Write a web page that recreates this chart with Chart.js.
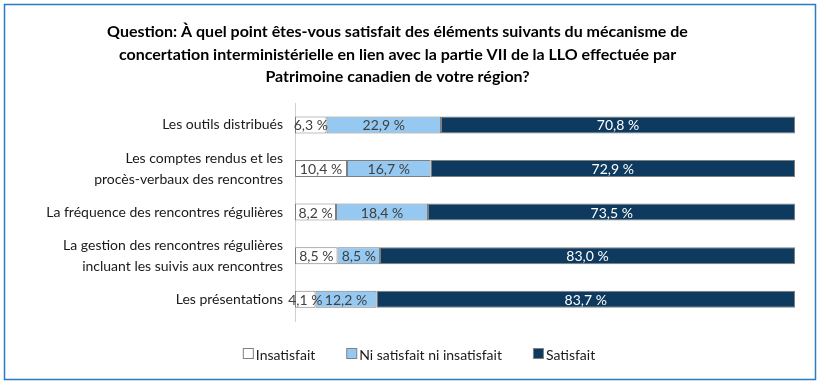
<!DOCTYPE html>
<html lang="fr">
<head>
<meta charset="UTF-8">
<title>Satisfaction - concertation interministérielle</title>
<script src="https://cdn.jsdelivr.net/npm/chart.js"></script>
<style>
  html, body { margin: 0; padding: 0; background: #fff; overflow: hidden; }
  .chart-wrapper { width: 826px; height: 391px; }
</style>
</head>
<body>
<div class="chart-wrapper"><canvas id="myChart" width="826" height="391"></canvas></div>
<script>
const categories = [
  'Les outils distribués',
  ['Les comptes rendus et les', 'procès-verbaux des rencontres'],
  'La fréquence des rencontres régulières',
  ['La gestion des rencontres régulières', 'incluant les suivis aux rencontres'],
  'Les présentations'
];
const seriesNames = ['Insatisfait', 'Ni satisfait ni insatisfait', 'Satisfait'];
const insatisfait = [6.3, 10.4, 8.2, 8.5, 4.1];
const neutre = [22.9, 16.7, 18.4, 8.5, 12.2];
const satisfait = [70.8, 72.9, 73.5, 83.0, 83.7];
const titleLines = [
  'Question: À quel point êtes-vous satisfait des éléments suivants du mécanisme de',
  'concertation interministérielle en lien avec la partie VII de la LLO effectuée par',
  'Patrimoine canadien de votre région?'
];

const fillColors = ['#ffffff', '#95c9f1', '#0d3a5e'];
const labelColors = ['#404040', '#404040', '#ffffff'];
const FONT = 'Lato, "Open Sans", sans-serif';

// blue frame around the whole chart
const framePlugin = {
  id: 'frame',
  beforeDraw(chart) {
    const ctx = chart.ctx;
    ctx.save();
    ctx.fillStyle = '#fff';
    ctx.fillRect(0, 0, chart.width, chart.height);
    ctx.strokeStyle = '#2a7bc3';
    ctx.lineWidth = 1.5;
    ctx.strokeRect(4.5, 4.5, 811, 375);
    ctx.restore();
  }
};

// value labels in the middle of each segment
const valueLabels = {
  id: 'valueLabels',
  afterDatasetsDraw(chart) {
    const ctx = chart.ctx;
    ctx.save();
    ctx.font = '14px ' + FONT;
    ctx.textAlign = 'center';
    ctx.textBaseline = 'middle';
    chart.data.datasets.forEach((ds, i) => {
      chart.getDatasetMeta(i).data.forEach((bar, j) => {
        const txt = ds.data[j].toFixed(1).replace('.', ',') + ' %';
        ctx.fillStyle = labelColors[i];
        ctx.fillText(txt, (bar.x + bar.base) / 2, bar.y + 1);
      });
    });
    ctx.restore();
  }
};

// legend drawn like the Excel one (wider gaps than Chart.js allows)
const bottomLegend = {
  id: 'bottomLegend',
  afterDraw(chart) {
    const ctx = chart.ctx;
    const box = 10, gapText = 3, gapItem = 31, y = 354;
    ctx.save();
    ctx.font = '14px ' + FONT;
    ctx.textBaseline = 'middle';
    const widths = seriesNames.map(n => box + gapText + ctx.measureText(n).width);
    const total = widths.reduce((a, b) => a + b, 0) + gapItem * (widths.length - 1);
    let x = 419 - total / 2;
    seriesNames.forEach((name, i) => {
      ctx.fillStyle = fillColors[i];
      ctx.fillRect(x + 0.5, y - 5.5, box, box);
      ctx.strokeStyle = '#808080';
      ctx.lineWidth = 1;
      ctx.strokeRect(x + 0.5, y - 5.5, box, box);
      ctx.fillStyle = '#1a1a1a';
      ctx.fillText(name, x + box + gapText, y + 1);
      x += widths[i] + gapItem;
    });
    ctx.restore();
  }
};

const datasets = [insatisfait, neutre, satisfait].map((values, i) => ({
  label: seriesNames[i],
  data: values,
  backgroundColor: fillColors[i],
  borderColor: '#7f7f7f',
  borderWidth: 1,
  borderSkipped: false,
  barPercentage: 0.39,
  categoryPercentage: 1
}));

const ctx = document.getElementById('myChart').getContext('2d');
const myChart = new Chart(ctx, {
  type: 'bar',
  data: { labels: categories, datasets: datasets },
  options: {
    indexAxis: 'y',
    responsive: false,
    animation: false,
    layout: { padding: { left: 0, right: 31, top: 0, bottom: 70 } },
    plugins: {
      legend: { display: false },
      tooltip: { enabled: false },
      title: {
        display: true,
        text: titleLines,
        color: '#000',
        font: { family: FONT, size: 16, weight: 'bold', lineHeight: 1.4 },
        padding: { top: 21, bottom: 15 }
      }
    },
    scales: {
      x: {
        stacked: true,
        min: 0,
        max: 100,
        display: false
      },
      y: {
        stacked: true,
        grid: { display: false, drawTicks: false },
        border: { display: true, color: '#d0d0d0', width: 1 },
        ticks: {
          autoSkip: false,
          color: '#1a1a1a',
          padding: 12,
          font: { family: FONT, size: 14, lineHeight: 1.5 }
        },
        afterFit(scale) { scale.width = 295; }
      }
    }
  },
  plugins: [framePlugin, valueLabels, bottomLegend]
});
</script>
</body>
</html>
